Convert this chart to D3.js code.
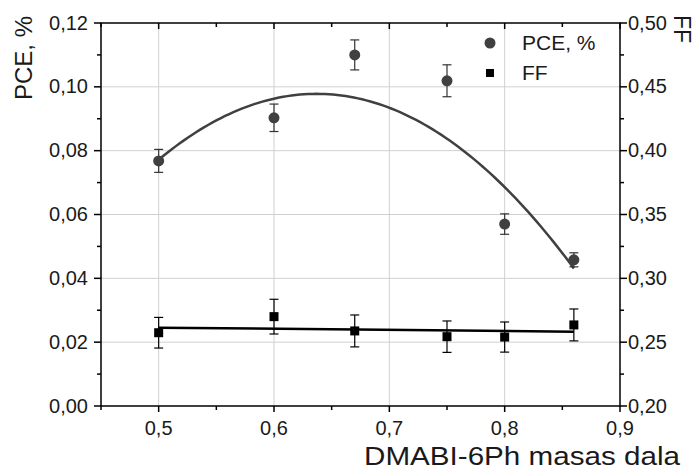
<!DOCTYPE html>
<html>
<head>
<meta charset="utf-8">
<script src="https://d3js.org/d3.v7.min.js"></script>
<style>
  body { margin: 0; background: #fff; }
  text { font-family: Arial, "Liberation Sans", sans-serif; fill: #1a1a1a; }
  .grid line { stroke: #d0d0d0; stroke-width: 1; }
</style>
</head>
<body>
<svg id="chart" width="694" height="473"></svg>
<script>
// data
var fraction = [0.5, 0.6, 0.67, 0.75, 0.8, 0.86];
var pce      = [0.0768, 0.0903, 0.1100, 0.1019, 0.0570, 0.0458];
var pceErr   = [0.0036, 0.0043, 0.0047, 0.0050, 0.0032, 0.0022];
var ff       = [0.2574, 0.2700, 0.2588, 0.2543, 0.2540, 0.2635];
var ffErr    = [0.0120, 0.0136, 0.0125, 0.0123, 0.0118, 0.0125];
// parabola drawn on the figure: a*(x-h)^2 + k
var pceFit   = [-1.1, 0.637, 0.0978];
var xTicks   = [0.5, 0.6, 0.7, 0.8, 0.9];
var yTicks   = [0, 0.02, 0.04, 0.06, 0.08, 0.10, 0.12];
var y2Ticks  = [0.20, 0.25, 0.30, 0.35, 0.40, 0.45, 0.50];

var svg = d3.select("#chart");
var pLeft = 101, pRight = 620, pTop = 23, pBottom = 406;

var x = d3.scaleLinear().domain([0.45, 0.9]).range([pLeft, pRight]);
var y = d3.scaleLinear().domain([0, 0.12]).range([pBottom, pTop]);
var y2 = d3.scaleLinear().domain([0.20, 0.50]).range([pBottom, pTop]);

var fmt = function(d) { return d3.format(".2f")(d).replace(".", ","); };
var fmt1 = function(d) { return d3.format(".1f")(d).replace(".", ","); };

// grid
var grid = svg.append("g").attr("class", "grid");
grid.selectAll(".gx").data(xTicks.filter(function(d) { return d < 0.9; }))
  .enter().append("line")
  .attr("x1", function(d) { return x(d); }).attr("x2", function(d) { return x(d); })
  .attr("y1", pTop).attr("y2", pBottom);
grid.selectAll(".gy").data(yTicks.slice(1, -1))
  .enter().append("line")
  .attr("x1", pLeft).attr("x2", pRight)
  .attr("y1", function(d) { return y(d); }).attr("y2", function(d) { return y(d); });

// linear fit for FF
function linFit(xs, ys) {
  var mx = d3.mean(xs), my = d3.mean(ys), sxy = 0, sxx = 0;
  xs.forEach(function(v, i) { sxy += (v - mx) * (ys[i] - my); sxx += (v - mx) * (v - mx); });
  var b = sxy / sxx;
  return function(t) { return my + b * (t - mx); };
}
var qf = function(t) { return pceFit[0] * (t - pceFit[1]) * (t - pceFit[1]) + pceFit[2]; };
var lf = linFit(fraction, ff);
var xs = d3.range(0, 101).map(function(i) { return 0.5 + (0.86 - 0.5) * i / 100; });

svg.append("path")
  .attr("d", d3.line().x(function(d) { return x(d); }).y(function(d) { return y(qf(d)); })(xs))
  .attr("fill", "none").attr("stroke", "#404040").attr("stroke-width", 2.5);
svg.append("path")
  .attr("d", d3.line().x(function(d) { return x(d); }).y(function(d) { return y2(lf(d)); })([0.5, 0.86]))
  .attr("fill", "none").attr("stroke", "#000").attr("stroke-width", 2.5);

// error bars
function errBars(vals, errs, scale, color) {
  var g = svg.append("g").attr("stroke", color).attr("stroke-width", 1.2);
  fraction.forEach(function(f, i) {
    var cx = x(f), y1 = scale(vals[i] + errs[i]), y0 = scale(vals[i] - errs[i]);
    g.append("line").attr("x1", cx).attr("x2", cx).attr("y1", y1).attr("y2", y0);
    g.append("line").attr("x1", cx - 4.5).attr("x2", cx + 4.5).attr("y1", y1).attr("y2", y1);
    g.append("line").attr("x1", cx - 4.5).attr("x2", cx + 4.5).attr("y1", y0).attr("y2", y0);
  });
}
errBars(pce, pceErr, y, "#333");
errBars(ff, ffErr, y2, "#000");

svg.selectAll(".pce").data(fraction).enter().append("circle")
  .attr("cx", function(d) { return x(d); })
  .attr("cy", function(d, i) { return y(pce[i]); })
  .attr("r", 5.5).attr("fill", "#404040");
svg.selectAll(".ff").data(fraction).enter().append("rect")
  .attr("x", function(d) { return x(d) - 4.5; })
  .attr("y", function(d, i) { return y2(ff[i]) - 4.5; })
  .attr("width", 9).attr("height", 9).attr("fill", "#000");

// axes
var axes = svg.append("g").attr("stroke", "#000").attr("stroke-width", 1.5);
axes.append("rect").attr("x", pLeft).attr("y", pTop).attr("width", pRight - pLeft).attr("height", pBottom - pTop)
  .attr("fill", "none");

var xMinor = d3.range(0, 10).map(function(i) { return 0.45 + i * 0.05; });
xMinor.forEach(function(d) {
  var major = xTicks.some(function(t) { return Math.abs(t - d) < 1e-6; });
  var len = major ? 6 : 4;
  axes.append("line").attr("x1", x(d)).attr("x2", x(d)).attr("y1", pBottom).attr("y2", pBottom + len);
  axes.append("line").attr("x1", x(d)).attr("x2", x(d)).attr("y1", pTop).attr("y2", pTop + len);
});
var yMinor = d3.range(0, 13).map(function(i) { return i * 0.01; });
yMinor.forEach(function(d, i) {
  var len = i % 2 === 0 ? 7 : 4;
  axes.append("line").attr("x1", pLeft - len).attr("x2", pLeft).attr("y1", y(d)).attr("y2", y(d));
  axes.append("line").attr("x1", pRight).attr("x2", pRight + len).attr("y1", y(d)).attr("y2", y(d));
});

// tick labels
svg.selectAll(".xl").data(xTicks).enter().append("text")
  .attr("x", function(d) { return x(d); }).attr("y", 435)
  .attr("text-anchor", "middle").attr("font-size", 20).text(fmt1);
svg.selectAll(".yl").data(yTicks).enter().append("text")
  .attr("x", 88).attr("y", function(d) { return y(d) + 6.5; })
  .attr("text-anchor", "end").attr("font-size", 20).text(fmt);
svg.selectAll(".y2l").data(y2Ticks).enter().append("text")
  .attr("x", 628).attr("y", function(d) { return y2(d) + 6.5; })
  .attr("text-anchor", "start").attr("font-size", 20).text(fmt);

// titles
svg.append("text").attr("x", 522).attr("y", 465).attr("text-anchor", "middle")
  .attr("font-size", 26).attr("textLength", 316).attr("lengthAdjust", "spacingAndGlyphs")
  .text("DMABI-6Ph masas dala");
svg.append("text").attr("transform", "translate(32,58) rotate(-90)").attr("text-anchor", "middle")
  .attr("font-size", 24).text("PCE, %");
svg.append("text").attr("transform", "translate(674,29) rotate(90)").attr("text-anchor", "middle")
  .attr("font-size", 23).text("FF");

// legend
svg.append("circle").attr("cx", 490).attr("cy", 43).attr("r", 5.5).attr("fill", "#404040");
svg.append("text").attr("x", 522).attr("y", 50).attr("font-size", 21).text("PCE, %");
svg.append("rect").attr("x", 486).attr("y", 69).attr("width", 8).attr("height", 8).attr("fill", "#000");
svg.append("text").attr("x", 522).attr("y", 80).attr("font-size", 21).text("FF");
</script>
</body>
</html>
